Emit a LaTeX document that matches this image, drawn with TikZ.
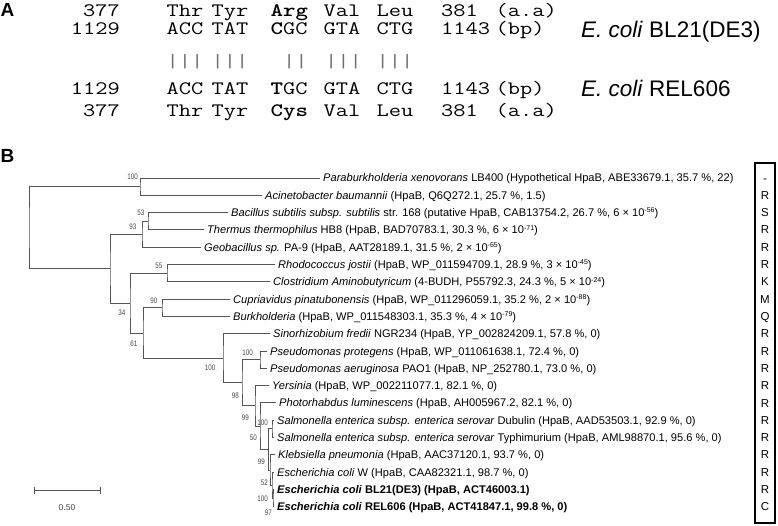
\documentclass[tikz,border=0pt]{standalone}
\usepackage{fontspec}
\setmainfont{Liberation Sans}
\newfontfamily\bsfont[FakeStretch=0.78]{Liberation Sans}
\definecolor{ln}{RGB}{85,85,85}
\definecolor{lb}{RGB}{70,70,70}
\definecolor{bar}{RGB}{110,110,110}
\newcommand\ex[1]{\raisebox{3.6pt}{\fontsize{7}{7}\selectfont #1}}
\newcommand\mn[1]{\scalebox{1.25}[1]{\ttfamily #1}}
\begin{document}
\begin{tikzpicture}[x=1pt,y=-1pt,
  leaf/.style={anchor=west, inner xsep=3pt, inner ysep=0pt, font=\fontsize{11.1}{12}\selectfont, text height=8pt, text depth=0pt},
  br/.style={draw=ln, line width=0.9pt},
  bs/.style={anchor=east, inner sep=0pt, font=\bsfont\fontsize{8}{8}\selectfont, text=lb},
  mono/.style={anchor=base west, inner sep=0pt, font=\fontsize{19}{19}\selectfont},
  monor/.style={anchor=base east, inner sep=0pt, font=\fontsize{19}{19}\selectfont},
  bars/.style={anchor=base west, inner sep=0pt, font=\fontsize{19}{19}\selectfont, text=bar},
  strain/.style={anchor=base west, inner sep=0pt, font=\fontsize{22.5}{24}\selectfont},
  panel/.style={anchor=base west, inner sep=0pt, font=\fontsize{19}{19}\selectfont\bfseries},
  res/.style={inner sep=0pt, font=\fontsize{11.5}{12}\selectfont, text height=8.2pt, text depth=0pt}
]
\useasboundingbox (0,0) rectangle (778,526);

% ---------------- Panel A ----------------
\node[panel] (pA) at (0.5,16.8) {A};
% row 1
\node[monor] (a1n) at (120,16.8) {\mn{377}};
\node[mono] (a1a) at (166.5,16.8) {\mn{Thr}};
\node[mono] (a1b) at (211.5,16.8) {\mn{Tyr}};
\node[mono] (a1c) at (270.5,16.8) {\mn{\bfseries Arg}};
\node[mono] (a1d) at (323.5,16.8) {\mn{Val}};
\node[mono] (a1e) at (376.5,16.8) {\mn{Leu}};
\node[mono] (a1f) at (441,16.8) {\mn{381}};
\node[mono] (a1g) at (495.5,16.8) {\mn{(a.a)}};
% row 2
\node[monor] (a2n) at (120,34.8) {\mn{1129}};
\node[mono] (a2a) at (166.5,34.8) {\mn{ACC}};
\node[mono] (a2b) at (211.5,34.8) {\mn{TAT}};
\node[mono] (a2c) at (270.5,34.8) {\mn{\textbf{C}GC}};
\node[mono] (a2d) at (323.5,34.8) {\mn{GTA}};
\node[mono] (a2e) at (376.5,34.8) {\mn{CTG}};
\node[mono] (a2f) at (441,34.8) {\mn{1143}};
\node[mono] (a2g) at (495.5,34.8) {\mn{(bp)}};
% bars
\node[bars] (m1) at (166.5,67.5) {\mn{|||}};
\node[bars] (m2) at (211.5,67.5) {\mn{|||}};
\node[bars] (m3) at (283,67.5) {\mn{||}};
\node[bars] (m4) at (325,67.5) {\mn{|||}};
\node[bars] (m5) at (376.5,67.5) {\mn{|||}};
% row 4
\node[monor] (a4n) at (120,94.8) {\mn{1129}};
\node[mono] (a4a) at (166.5,94.8) {\mn{ACC}};
\node[mono] (a4b) at (211.5,94.8) {\mn{TAT}};
\node[mono] (a4c) at (270.5,94.8) {\mn{\textbf{T}GC}};
\node[mono] (a4d) at (323.5,94.8) {\mn{GTA}};
\node[mono] (a4e) at (376.5,94.8) {\mn{CTG}};
\node[mono] (a4f) at (441,94.8) {\mn{1143}};
\node[mono] (a4g) at (495.5,94.8) {\mn{(bp)}};
% row 5
\node[monor] (a5n) at (120,116.8) {\mn{377}};
\node[mono] (a5a) at (166.5,116.8) {\mn{Thr}};
\node[mono] (a5b) at (211.5,116.8) {\mn{Tyr}};
\node[mono] (a5c) at (270.5,116.8) {\mn{\bfseries Cys}};
\node[mono] (a5d) at (323.5,116.8) {\mn{Val}};
\node[mono] (a5e) at (376.5,116.8) {\mn{Leu}};
\node[mono] (a5f) at (441,116.8) {\mn{381}};
\node[mono] (a5g) at (495.5,116.8) {\mn{(a.a)}};
% strains
\node[strain] (sBL) at (581,37.5) {\textit{E. coli} BL21(DE3)};
\node[strain] (sREL) at (581,97) {\textit{E. coli} REL606};

% ---------------- Panel B ----------------
\node[panel] (pB) at (0.5,162.3) {B};

% leaves
\node[leaf] (l1) at (320,178.0) {\textit{Paraburkholderia xenovorans} LB400 (Hypothetical HpaB, ABE33679.1, 35.7 \%, 22)};
\node[leaf] (l2) at (262,195.3) {\textit{Acinetobacter baumannii} (HpaB, Q6Q272.1, 25.7 \%, 1.5)};
\node[leaf] (l3) at (228,212.6) {\textit{Bacillus subtilis subsp. subtilis} str. 168 (putative HpaB, CAB13754.2, 26.7 \%, 6 × 10\ex{-56})};
\node[leaf] (l4) at (204,229.9) {\textit{Thermus thermophilus} HB8 (HpaB, BAD70783.1, 30.3 \%, 6 × 10\ex{-71})};
\node[leaf] (l5) at (201,247.2) {\textit{Geobacillus sp.} PA-9 (HpaB, AAT28189.1, 31.5 \%, 2 × 10\ex{-65})};
\node[leaf] (l6) at (275,264.5) {\textit{Rhodococcus jostii} (HpaB, WP\_011594709.1, 28.9 \%, 3 × 10\ex{-45})};
\node[leaf] (l7) at (270,281.8) {\textit{Clostridium Aminobutyricum} (4-BUDH, P55792.3, 24.3 \%, 5 × 10\ex{-24})};
\node[leaf] (l8) at (230,299.1) {\textit{Cupriavidus pinatubonensis} (HpaB, WP\_011296059.1, 35.2 \%, 2 × 10\ex{-88})};
\node[leaf] (l9) at (230,316.4) {\textit{Burkholderia} (HpaB, WP\_011548303.1, 35.3 \%, 4 × 10\ex{-79})};
\node[leaf] (l10) at (270,333.7) {\textit{Sinorhizobium fredii} NGR234 (HpaB, YP\_002824209.1, 57.8 \%, 0)};
\node[leaf] (l11) at (267,351.0) {\textit{Pseudomonas protegens} (HpaB, WP\_011061638.1, 72.4 \%, 0)};
\node[leaf] (l12) at (267,368.3) {\textit{Pseudomonas aeruginosa} PAO1 (HpaB, NP\_252780.1, 73.0 \%, 0)};
\node[leaf] (l13) at (269,385.6) {\textit{Yersinia} (HpaB, WP\_002211077.1, 82.1 \%, 0)};
\node[leaf] (l14) at (276,402.9) {\textit{Photorhabdus luminescens} (HpaB, AH005967.2, 82.1 \%, 0)};
\node[leaf] (l15) at (274,420.2) {\textit{Salmonella enterica subsp. enterica serovar} Dubulin (HpaB, AAD53503.1, 92.9 \%, 0)};
\node[leaf] (l16) at (274,437.5) {\textit{Salmonella enterica subsp. enterica serovar} Typhimurium (HpaB, AML98870.1, 95.6 \%, 0)};
\node[leaf] (l17) at (275,454.8) {\textit{Klebsiella pneumonia} (HpaB, AAC37120.1, 93.7 \%, 0)};
\node[leaf] (l18) at (274,472.1) {\textit{Escherichia coli} W (HpaB, CAA82321.1, 98.7 \%, 0)};
\node[leaf] (l19) at (274,489.4) {\textbf{\textit{Escherichia coli} BL21(DE3) (HpaB, ACT46003.1)}};
\node[leaf] (l20) at (274,506.7) {\textbf{\textit{Escherichia coli} REL606 (HpaB, ACT41847.1, 99.8 \%, 0)}};

% internal nodes
\coordinate (n53) at (148,221.25);
\coordinate (n93) at (142,234.2);
\coordinate (n55) at (167,273.15);
\coordinate (n90) at (162,307.75);
\coordinate (nPs) at (260,359.65);
\coordinate (nSal) at (272,428.85);
\coordinate (nBR) at (273,498.05);
\coordinate (nEc) at (272,485.1);
\coordinate (nKE) at (270,469.95);
\coordinate (n99b) at (268.5,449.4);
\coordinate (n50) at (260,426.15);
\coordinate (n99) at (255,405.9);
\coordinate (n98) at (242,382.8);
\coordinate (n100b) at (223,358.25);
\coordinate (n61) at (143,333);
\coordinate (n34) at (130,303.1);
\coordinate (nR2) at (110,268.65);
\coordinate (n100a) at (140,186.65);
\coordinate (root) at (29,227.65);

% branches
\draw[br] (l3.west) -| (n53) |- (l4.west);
\draw[br] (n53) -| (n93) |- (l5.west);
\draw[br] (l6.west) -| (n55) |- (l7.west);
\draw[br] (l8.west) -| (n90) |- (l9.west);
\draw[br] (l11.west) -| (nPs) |- (l12.west);
\draw[br] (l15.west) -| (nSal) |- (l16.west);
\draw[br] (l19.west) -| (nBR) |- (l20.west);
\draw[br] (l18.west) -| (nEc) |- (nBR);
\draw[br] (l17.west) -| (nKE) |- (nEc);
\draw[br] (nSal) -| (n99b) |- (nKE);
\draw[br] (l14.west) -| (n50) |- (n99b);
\draw[br] (l13.west) -| (n99) |- (n50);
\draw[br] (nPs) -| (n98) |- (n99);
\draw[br] (l10.west) -| (n100b) |- (n98);
\draw[br] (n90) -| (n61) |- (n100b);
\draw[br] (n55) -| (n34) |- (n61);
\draw[br] (n93) -| (nR2) |- (n34);
\draw[br] (l1.west) -| (n100a) |- (l2.west);
\draw[br] (n100a) -| (root) |- (nR2);

% bootstrap values
\node[bs] (b1) at (138,177) {100};
\node[bs] (b2) at (144.5,213) {53};
\node[bs] (b3) at (136.5,227) {93};
\node[bs] (b4) at (162.5,266) {55};
\node[bs] (b5) at (125.5,313) {34};
\node[bs] (b6) at (157.5,301) {90};
\node[bs] (b7) at (137.5,344) {61};
\node[bs] (b8) at (215.5,368) {100};
\node[bs] (b9) at (253,353) {100};
\node[bs] (b10) at (239,395.5) {98};
\node[bs] (b11) at (249,418) {99};
\node[bs] (b12) at (257,438) {50};
\node[bs] (b13) at (268,423) {100};
\node[bs] (b14) at (265,462) {99};
\node[bs] (b15) at (268,483) {52};
\node[bs] (b16) at (268,499) {100};
\node[bs] (b17) at (272,513) {97};

% scale bar
\coordinate (s1) at (34,490);
\coordinate (s2) at (100,490);
\draw[br] (s1) -- (s2);
\draw[br] ([yshift=3.5pt]s1) -- ([yshift=-3.5pt]s1);
\draw[br] ([yshift=3.5pt]s2) -- ([yshift=-3.5pt]s2);
\node[inner sep=0pt, font=\fontsize{8.5}{8.5}\selectfont, text=lb] (sl) at (67,508) {0.50};

% residue box
\draw[line width=2.8pt] (755,163) rectangle (775,523);
\foreach \r/\yy [count=\i] in {-/178.0,R/195.3,S/212.6,R/229.9,R/247.2,R/264.5,K/281.8,M/299.1,Q/316.4,R/333.7,R/351.0,R/368.3,R/385.6,R/402.9,R/420.2,R/437.5,R/454.8,R/472.1,R/489.4,C/506.7}
  \node[res] (k\i) at (765,\yy) {\r};
\end{tikzpicture}
\end{document}
